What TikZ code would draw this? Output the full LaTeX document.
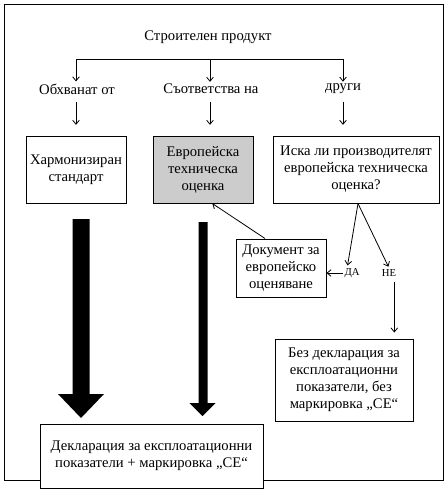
\documentclass[tikz,border=0pt]{standalone}
\usepackage{fontspec}
\setmainfont{Liberation Serif}
\usetikzlibrary{arrows.meta,calc}
\begin{document}
\begin{tikzpicture}[x=0.75pt,y=-0.75pt,
  every node/.style={font=\fontsize{11}{12.75}\selectfont},
  box/.style={draw, line width=0.75pt, align=center, inner sep=1pt},
  lbl/.style={inner sep=1.5pt},
  small/.style={inner sep=1pt, font=\fontsize{8}{9}\selectfont},
  arr/.style={-{Straight Barb[length=3pt,width=5pt]}, line width=0.6pt},
  thick arrow/.style={fill=black}]
\useasboundingbox (0,0) rectangle (447,490);
\fill[white] (0,0) rectangle (447,490);
\draw[line width=0.75pt] (4,4) rectangle (443,480);

\node (title) at (208,37) {Строителен продукт};
\coordinate (b1) at (76,59);
\coordinate (b2) at (210,59);
\coordinate (b3) at (343,59);
\draw[line width=0.6pt] (b1) -- (b3);

\node[lbl] (l1) at (77,89) {Обхванат от};
\node[lbl] (l2) at (211,89) {Съответства на};
\node[lbl] (l3) at (343,89) {други};

\draw[arr] (b1) -- (b1 |- l1.north);
\draw[arr] (b2) -- (b2 |- l2.north);
\draw[arr] (b3) -- (b3 |- l3.north);

\node[box, minimum width=75pt, minimum height=50.25pt] (h) at (76,169.5) {Хармонизиран\\стандарт};
\node[box, fill=gray!40, minimum width=75pt, minimum height=50.25pt] (g) at (203,169.5) {Европейска\\техническа\\оценка};
\node[box, minimum width=124.5pt, minimum height=50.25pt] (q) at (356,169.5) {Иска ли производителят\\европейска техническа\\оценка?};

\draw[arr, shorten <=4pt, shorten >=8pt] (l1.south -| b1) -- (b1 |- h.north);
\draw[arr, shorten <=4pt, shorten >=8pt] (l2.south -| b2) -- (b2 |- g.north);
\draw[arr, shorten <=4pt, shorten >=8pt] (l3.south -| b3) -- (b3 |- q.north);

\node[box, minimum width=67.5pt, minimum height=43.5pt] (doc) at (281,268) {Документ за\\европейско\\оценяване};
\node[small] (da) at (352,273) {ДА};
\node[small] (ne) at (389,273) {НЕ};

\draw[arr] ([xshift=-12pt]doc.north) -- ([xshift=7pt]g.south);
\draw[arr, shorten >=1pt] ([xshift=1.5pt]q.south) -- ([xshift=-3.5pt]da.north);
\draw[arr, shorten >=1pt] ([xshift=1.5pt]q.south) -- (ne.north);
\draw[arr] (da.west) -- (doc.east |- da.west);

\node[box, minimum width=103.5pt, minimum height=61.5pt] (bez) at (344,380) {Без декларация за\\експлоатационни\\показатели, без\\маркировка „CE“};
\draw[arr, shorten <=3pt, shorten >=4.5pt] ([xshift=4pt]ne.south) -- ([xshift=4pt]ne.south |- bez.north);

\node[box, fill=white, minimum width=167.25pt, minimum height=48pt] (decl) at (151.5,456) {Декларация за експлоатационни\\показатели + маркировка „CE“};

% thick arrows
\fill[thick arrow] (72.5,219) -- (89.5,219) -- (89.5,394) -- (104,394) -- (81,418) -- (58,394) -- (72.5,394) -- cycle;
\fill[thick arrow] (198.5,222) -- (207.5,222) -- (207.5,403) -- (215.5,403) -- (202.5,416) -- (189.5,403) -- (198.5,403) -- cycle;
\end{tikzpicture}
\end{document}
